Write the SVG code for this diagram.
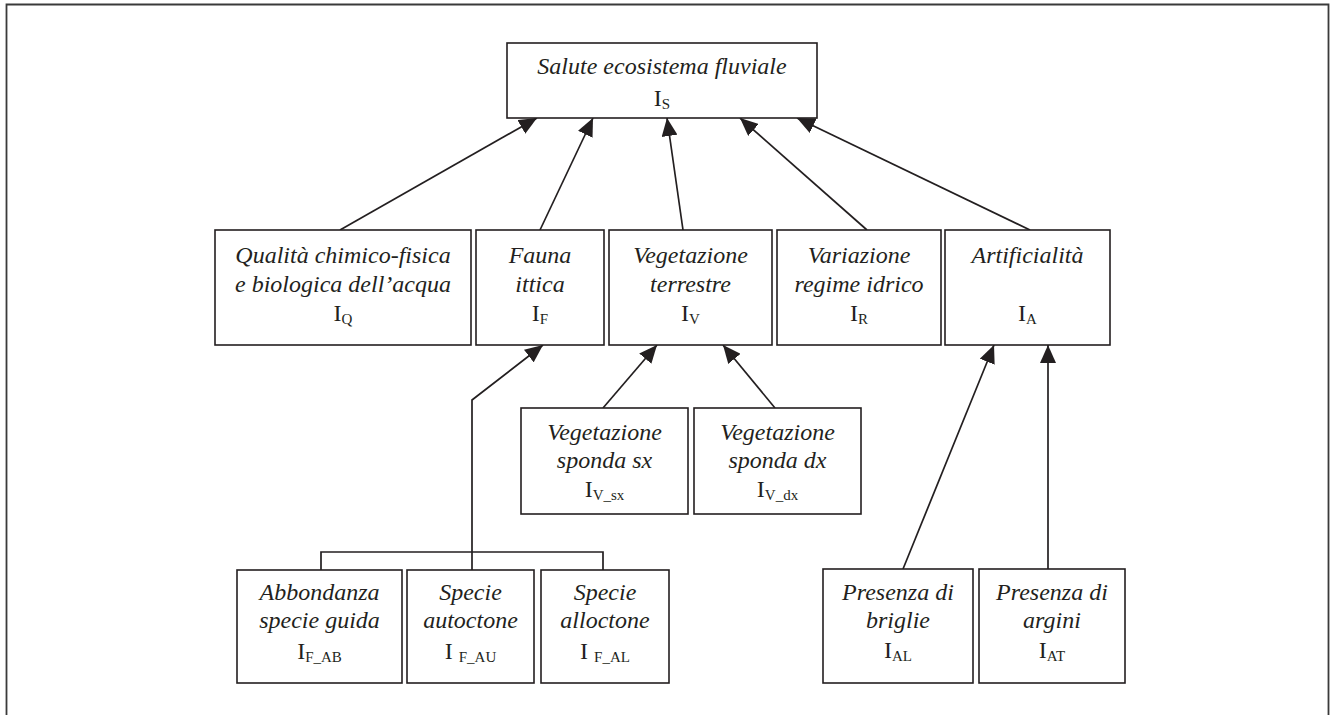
<svg xmlns="http://www.w3.org/2000/svg" width="1330" height="715" viewBox="0 0 1330 715">
  <style>
    .box { fill: #ffffff; stroke: #231f20; stroke-width: 1.6; }
    .lbl { font-family: "Liberation Serif", "Times New Roman", serif; font-size: 24px; font-style: italic; fill: #231f20; text-anchor: middle; }
    .idx { font-family: "Liberation Serif", "Times New Roman", serif; font-size: 24px; fill: #231f20; text-anchor: middle; }
    .sub { font-size: 15px; }
    .edge { fill: none; stroke: #231f20; stroke-width: 1.7; }
    .frame { fill: none; stroke: #3a3a3a; stroke-width: 1.8; }
  </style>
  <defs>
    <marker id="arrow" markerUnits="userSpaceOnUse" markerWidth="19" markerHeight="16" refX="18" refY="8" orient="auto">
      <path d="M0,0 L18,8 L0,16 Z" fill="#231f20"/>
    </marker>
  </defs>

  <rect width="1330" height="715" fill="#ffffff"/>
  <path class="frame" d="M6.5,715 V4.5 H1328.5 V715"/>

  <!-- connectors -->
  <g id="connectors">
    <line class="edge" x1="340" y1="230" x2="537" y2="118" marker-end="url(#arrow)"/>
    <line class="edge" x1="540" y1="230" x2="593" y2="118" marker-end="url(#arrow)"/>
    <line class="edge" x1="683" y1="230" x2="667" y2="118" marker-end="url(#arrow)"/>
    <line class="edge" x1="867" y1="230" x2="740" y2="118" marker-end="url(#arrow)"/>
    <line class="edge" x1="1030" y1="230" x2="797" y2="118" marker-end="url(#arrow)"/>

    <polyline class="edge" points="472,552 472,400 543,345" marker-end="url(#arrow)"/>
    <polyline class="edge" points="321,570 321,552 603,552 603,570"/>
    <line class="edge" x1="472" y1="552" x2="472" y2="570"/>

    <line class="edge" x1="603" y1="408" x2="657" y2="345" marker-end="url(#arrow)"/>
    <line class="edge" x1="775" y1="408" x2="723" y2="345" marker-end="url(#arrow)"/>

    <line class="edge" x1="903" y1="569" x2="994" y2="345" marker-end="url(#arrow)"/>
    <line class="edge" x1="1048" y1="569" x2="1048" y2="345" marker-end="url(#arrow)"/>
  </g>

  <!-- root -->
  <g id="n-salute">
    <rect class="box" x="507" y="43" width="310" height="75"/>
    <text class="lbl" x="662" y="74">Salute ecosistema fluviale</text>
    <text class="idx" x="662" y="106">I<tspan class="sub" dy="3">S</tspan></text>
  </g>

  <!-- middle row -->
  <g id="n-qualita">
    <rect class="box" x="215" y="230" width="256" height="115"/>
    <text class="lbl" x="343" y="263">Qualità chimico-fisica</text>
    <text class="lbl" x="343" y="292">e biologica dell’acqua</text>
    <text class="idx" x="343" y="321">I<tspan class="sub" dy="3">Q</tspan></text>
  </g>
  <g id="n-fauna">
    <rect class="box" x="476" y="230" width="128" height="115"/>
    <text class="lbl" x="540" y="263">Fauna</text>
    <text class="lbl" x="540" y="292">ittica</text>
    <text class="idx" x="540" y="321">I<tspan class="sub" dy="3">F</tspan></text>
  </g>
  <g id="n-vegetazione">
    <rect class="box" x="609" y="230" width="163" height="115"/>
    <text class="lbl" x="690.5" y="263">Vegetazione</text>
    <text class="lbl" x="690.5" y="292">terrestre</text>
    <text class="idx" x="690.5" y="321">I<tspan class="sub" dy="3">V</tspan></text>
  </g>
  <g id="n-variazione">
    <rect class="box" x="777" y="230" width="164" height="115"/>
    <text class="lbl" x="859" y="263">Variazione</text>
    <text class="lbl" x="859" y="292">regime idrico</text>
    <text class="idx" x="859" y="321">I<tspan class="sub" dy="3">R</tspan></text>
  </g>
  <g id="n-artificialita">
    <rect class="box" x="945" y="230" width="165" height="115"/>
    <text class="lbl" x="1027.5" y="263">Artificialità</text>
    <text class="idx" x="1027.5" y="321">I<tspan class="sub" dy="3">A</tspan></text>
  </g>

  <!-- riparian vegetation -->
  <g id="n-veg-sx">
    <rect class="box" x="521" y="408" width="167" height="106"/>
    <text class="lbl" x="604.5" y="440">Vegetazione</text>
    <text class="lbl" x="604.5" y="468">sponda sx</text>
    <text class="idx" x="604.5" y="497">I<tspan class="sub" dy="3">V_sx</tspan></text>
  </g>
  <g id="n-veg-dx">
    <rect class="box" x="694" y="408" width="167" height="106"/>
    <text class="lbl" x="777.5" y="440">Vegetazione</text>
    <text class="lbl" x="777.5" y="468">sponda dx</text>
    <text class="idx" x="777.5" y="497">I<tspan class="sub" dy="3">V_dx</tspan></text>
  </g>

  <!-- fish fauna sub-indices -->
  <g id="n-abbondanza">
    <rect class="box" x="237" y="570" width="165" height="113"/>
    <text class="lbl" x="319.5" y="600">Abbondanza</text>
    <text class="lbl" x="319.5" y="628">specie guida</text>
    <text class="idx" x="319.5" y="659">I<tspan class="sub" dy="3">F_AB</tspan></text>
  </g>
  <g id="n-autoctone">
    <rect class="box" x="407" y="570" width="127" height="113"/>
    <text class="lbl" x="470.5" y="600">Specie</text>
    <text class="lbl" x="470.5" y="628">autoctone</text>
    <text class="idx" x="470.5" y="659">I<tspan class="sub" dx="6" dy="3">F_AU</tspan></text>
  </g>
  <g id="n-alloctone">
    <rect class="box" x="541" y="570" width="128" height="113"/>
    <text class="lbl" x="605" y="600">Specie</text>
    <text class="lbl" x="605" y="628">alloctone</text>
    <text class="idx" x="605" y="659">I<tspan class="sub" dx="6" dy="3">F_AL</tspan></text>
  </g>

  <!-- artificiality sub-indices -->
  <g id="n-briglie">
    <rect class="box" x="823" y="569" width="150" height="114"/>
    <text class="lbl" x="898" y="600">Presenza di</text>
    <text class="lbl" x="898" y="628">briglie</text>
    <text class="idx" x="898" y="658">I<tspan class="sub" dy="3">AL</tspan></text>
  </g>
  <g id="n-argini">
    <rect class="box" x="979" y="569" width="146" height="114"/>
    <text class="lbl" x="1052" y="600">Presenza di</text>
    <text class="lbl" x="1052" y="628">argini</text>
    <text class="idx" x="1052" y="658">I<tspan class="sub" dy="3">AT</tspan></text>
  </g>
</svg>
